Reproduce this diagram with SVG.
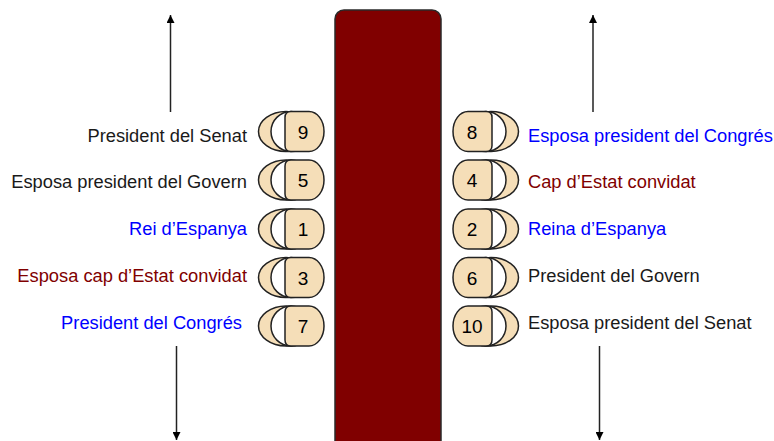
<svg xmlns="http://www.w3.org/2000/svg" width="774" height="441" viewBox="0 0 774 441">
<defs>
<style>
.lbl{font-family:"Liberation Sans",Arial,sans-serif;font-size:18.3px}
.num{font-family:"Liberation Sans",Arial,sans-serif;font-size:19px;text-anchor:middle;fill:#000}
.back{fill:#f5deb8;stroke:#222;stroke-width:1.5}
.inner{fill:#fff;stroke:#222;stroke-width:1.5}
.seat{fill:#f5deb8;stroke:#222;stroke-width:1.5}
.blk{fill:#1a1a1a}.blu{fill:#0000ff}.red{fill:#800000}
.arr{stroke:#222;stroke-width:1.5;fill:none;marker-end:url(#ah)}
</style>
<marker id="ah" viewBox="0 0 10 10" refX="10" refY="5" markerWidth="9" markerHeight="8" orient="auto" markerUnits="userSpaceOnUse">
<path d="M0,0 L10,5 L0,10 Z" fill="#000"/>
</marker>
<g id="chairL">
<ellipse class="back" cx="286" cy="0" rx="27.5" ry="20"/>
<ellipse class="inner" cx="291" cy="0" rx="20" ry="20"/>
<path class="seat" d="M291,-20 H309 A15 20 0 0 1 324,0 A15 20 0 0 1 309,20 H291 Q285,20 285,14 V-14 Q285,-20 291,-20 Z"/>
</g>
<g id="chairR">
<ellipse class="back" cx="491" cy="0" rx="27.5" ry="20"/>
<ellipse class="inner" cx="486" cy="0" rx="20" ry="20"/>
<path class="seat" d="M486,-20 H468 A15 20 0 0 0 453,0 A15 20 0 0 0 468,20 H486 Q492,20 492,14 V-14 Q492,-20 486,-20 Z"/>
</g>
</defs>
<rect width="774" height="441" fill="#fff"/>
<g id="table"><rect x="335" y="10" width="106" height="445" rx="9" fill="#800000" stroke="#2a2a2a" stroke-width="1.5"/></g>
<g id="connectors">
<line class="arr" x1="170.5" y1="112" x2="170.5" y2="15"/>
<line class="arr" x1="176.5" y1="346" x2="176.5" y2="440"/>
<line class="arr" x1="593" y1="112" x2="593" y2="15"/>
<line class="arr" x1="599.5" y1="346" x2="599.5" y2="440"/>
</g>
<g id="seat9"><use href="#chairL" y="131.5"/><text class="num" x="303" y="138.5">9</text><text class="lbl blk" x="247" y="142" text-anchor="end">President del Senat</text></g>
<g id="seat5"><use href="#chairL" y="180"/><text class="num" x="303" y="187">5</text><text class="lbl blk" x="247" y="188" text-anchor="end">Esposa president del Govern</text></g>
<g id="seat1"><use href="#chairL" y="229"/><text class="num" x="303" y="236">1</text><text class="lbl blu" x="247" y="235" text-anchor="end">Rei d’Espanya</text></g>
<g id="seat3"><use href="#chairL" y="277.5"/><text class="num" x="303" y="284.5">3</text><text class="lbl red" x="247" y="282" text-anchor="end">Esposa cap d’Estat convidat</text></g>
<g id="seat7"><use href="#chairL" y="326"/><text class="num" x="303" y="333">7</text><text class="lbl blu" x="242" y="329" text-anchor="end">President del Congrés</text></g>
<g id="seat8"><use href="#chairR" y="131.5"/><text class="num" x="472" y="138.5">8</text><text class="lbl blu" x="528" y="142">Esposa president del Congrés</text></g>
<g id="seat4"><use href="#chairR" y="180"/><text class="num" x="472" y="187">4</text><text class="lbl red" x="528" y="188">Cap d’Estat convidat</text></g>
<g id="seat2"><use href="#chairR" y="229"/><text class="num" x="472" y="236">2</text><text class="lbl blu" x="528" y="235">Reina d’Espanya</text></g>
<g id="seat6"><use href="#chairR" y="277.5"/><text class="num" x="472" y="284.5">6</text><text class="lbl blk" x="528" y="282">President del Govern</text></g>
<g id="seat10"><use href="#chairR" y="326"/><text class="num" x="472" y="333">10</text><text class="lbl blk" x="528" y="329">Esposa president del Senat</text></g>
</svg>
